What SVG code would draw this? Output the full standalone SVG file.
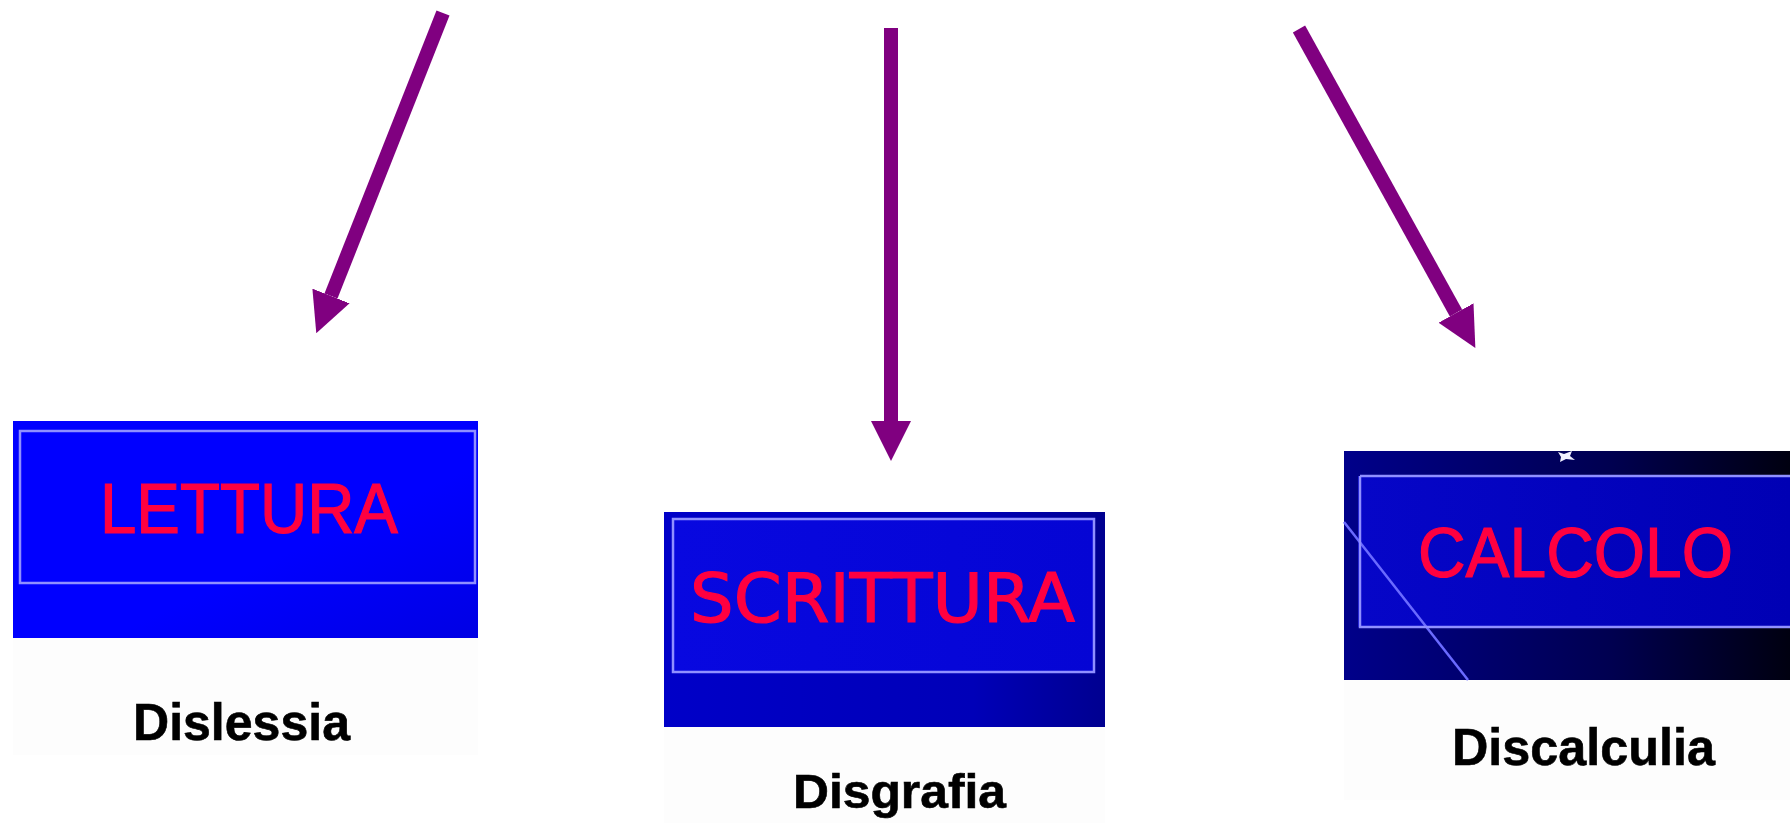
<svg xmlns="http://www.w3.org/2000/svg" width="1790" height="823" viewBox="0 0 1790 823">
<style>
.panel{fill:#fdfdfd}
.frame{fill:none;stroke:#9090ff;stroke-width:2.5}
.title{fill:#ff0040;stroke:#ff0040;stroke-width:1.2;font-family:"Liberation Sans",Arial,sans-serif;font-size:70px}
.label{fill:#000;stroke:#000;stroke-width:0.6;font-family:"Liberation Sans",Arial,sans-serif;font-weight:bold;font-size:52px}
.conn{stroke:#800080;stroke-width:14;fill:none;marker-end:url(#head)}
</style>
<defs>
<marker id="head" markerUnits="userSpaceOnUse" viewBox="0 -20 40 40" refX="0" refY="0" markerWidth="40" markerHeight="40" orient="auto">
<path d="M0,-20 L40,0 L0,20 z" fill="#800080"/>
</marker>
<linearGradient id="g1" x1="0" y1="0" x2="1" y2="1">
<stop offset="0.6" stop-color="#0000ff"/>
<stop offset="1" stop-color="#0000e4"/>
</linearGradient>
<linearGradient id="g2" x1="0" y1="0" x2="1" y2="0">
<stop offset="0" stop-color="#0000c8"/>
<stop offset="0.7" stop-color="#0000b8"/>
<stop offset="1" stop-color="#000090"/>
</linearGradient>
<linearGradient id="g2i" x1="0" y1="0" x2="1" y2="0">
<stop offset="0" stop-color="#0808e0"/>
<stop offset="1" stop-color="#0505d4"/>
</linearGradient>
<linearGradient id="g3" x1="0" y1="0" x2="1" y2="0">
<stop offset="0" stop-color="#00008a"/>
<stop offset="0.6" stop-color="#000050"/>
<stop offset="1" stop-color="#000010"/>
</linearGradient>
<linearGradient id="g3i" x1="0" y1="0" x2="1" y2="0">
<stop offset="0" stop-color="#0606c8"/>
<stop offset="1" stop-color="#0000b4"/>
</linearGradient>
</defs>
<rect width="1790" height="823" fill="#ffffff"/>

<g id="node-lettura">
<rect class="panel" x="13" y="638" width="465" height="117"/>
<rect x="13" y="421" width="465" height="217" fill="url(#g1)"/>
<rect class="frame" x="20" y="431" width="455" height="152"/>
<text class="title" x="100" y="533" textLength="298" lengthAdjust="spacingAndGlyphs">LETTURA</text>
<text class="label" x="133" y="740" textLength="217" lengthAdjust="spacingAndGlyphs">Dislessia</text>
</g>

<g id="node-scrittura">
<rect class="panel" x="664" y="727" width="441" height="96"/>
<rect x="664" y="512" width="441" height="215" fill="url(#g2)"/>
<rect x="673" y="519" width="421" height="153" fill="url(#g2i)"/>
<rect class="frame" x="673" y="519" width="421" height="153"/>
<text class="title" x="690" y="622" style="font-family:'DejaVu Sans',Verdana,sans-serif;font-size:67px" textLength="385" lengthAdjust="spacingAndGlyphs">SCRITTURA</text>
<text class="label" x="793" y="808" style="font-size:48px" textLength="213" lengthAdjust="spacingAndGlyphs">Disgrafia</text>
</g>

<g id="node-calcolo">
<rect class="panel" x="1344" y="680" width="446" height="120"/>
<rect x="1344" y="451" width="446" height="229" fill="url(#g3)"/>
<rect x="1358" y="476" width="432" height="151" fill="url(#g3i)"/>
<line x1="1344" y1="522" x2="1468" y2="680" stroke="#6a6aff" stroke-width="2.5"/>
<path d="M1360,476 L1790,476 M1360,476 L1360,627 L1790,627" class="frame"/>
<polygon points="1558,452 1564,454 1572,451 1570,456 1575,460 1566,459 1560,462 1561,457" fill="#f0f0ff"/>
<text class="title" x="1418" y="577" textLength="315" lengthAdjust="spacingAndGlyphs">CALCOLO</text>
<text class="label" x="1452" y="765" textLength="263" lengthAdjust="spacingAndGlyphs">Discalculia</text>
</g>

<g id="connectors">
<line class="conn" x1="443" y1="13" x2="331" y2="296"/>
<line class="conn" x1="891" y1="28" x2="891" y2="421"/>
<line class="conn" x1="1299" y1="29" x2="1456" y2="313"/>
</g>
</svg>
